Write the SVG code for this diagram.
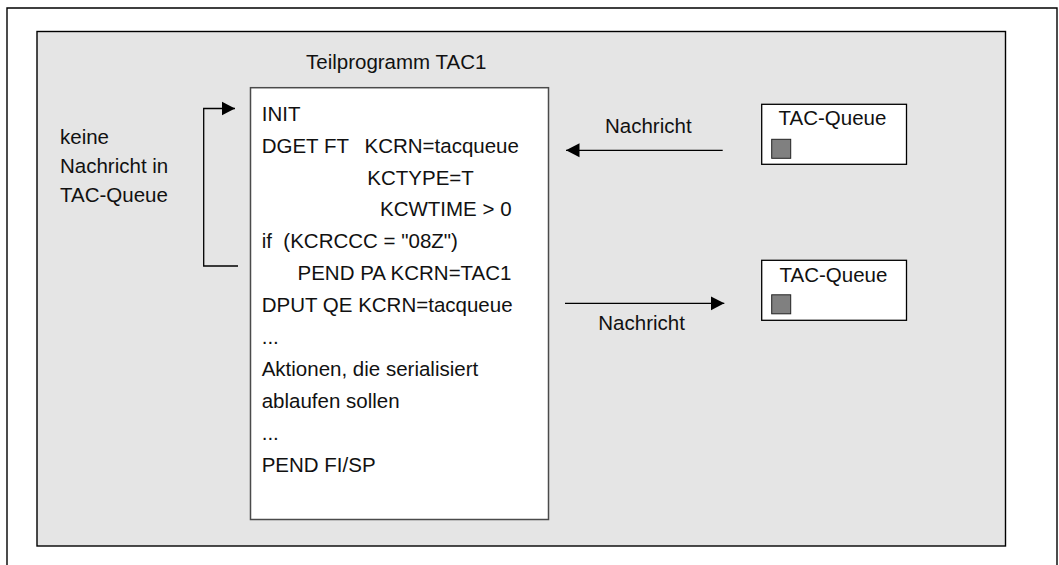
<svg xmlns="http://www.w3.org/2000/svg" width="1059" height="565" viewBox="0 0 1059 565">
<style>
text{font-family:"Liberation Sans",Arial,sans-serif;font-size:20.5px;fill:#111;}
.frame{fill:none;stroke:#000;stroke-width:1.4;}
.bg{fill:#e5e5e5;stroke:#000;stroke-width:1.4;}
.prog{fill:#fff;stroke:#4a4a4a;stroke-width:1.5;}
.queue{fill:#fff;stroke:#000;stroke-width:1.3;}
.msg{fill:#808080;stroke:#222;stroke-width:1;}
.conn{fill:none;stroke:#000;stroke-width:1.3;}
</style>
<defs>
<marker id="ah" markerUnits="userSpaceOnUse" viewBox="0 0 14 15" refX="13.5" refY="7.5" markerWidth="14" markerHeight="15" orient="auto">
<path d="M0,0.5 L13.5,7.5 L0,14.5 z" fill="#000"/>
</marker>
</defs>
<rect width="1059" height="565" fill="#fff"/>
<path class="frame" d="M7,566 V8 H1057 V566"/>
<g id="system">
<rect class="bg" x="37" y="31.5" width="968.5" height="514.5"/>
</g>
<g id="note">
<text x="60" y="144.3">keine</text>
<text x="60" y="173.3">Nachricht in</text>
<text x="60" y="202.3">TAC-Queue</text>
</g>
<g id="teilprogramm">
<text x="306" y="69">Teilprogramm TAC1</text>
<rect class="prog" x="250.5" y="87.7" width="298" height="431.8"/>
<text x="261.7" y="120.7">INIT</text>
<text y="152.6"><tspan x="261.7">DGET FT</tspan><tspan x="364.5">KCRN=tacqueue</tspan></text>
<text x="367.3" y="184.5">KCTYPE=T</text>
<text x="380" y="216.4">KCWTIME &gt; 0</text>
<text x="261.7" y="248.3" xml:space="preserve">if  (KCRCCC = "08Z")</text>
<text x="297.5" y="280.2">PEND PA KCRN=TAC1</text>
<text x="261.7" y="312.1">DPUT QE KCRN=tacqueue</text>
<text x="261.7" y="344">...</text>
<text x="261.7" y="375.9">Aktionen, die serialisiert</text>
<text x="261.7" y="407.8">ablaufen sollen</text>
<text x="261.7" y="439.7">...</text>
<text x="261.7" y="471.6">PEND FI/SP</text>
</g>
<g id="queue-in">
<rect class="queue" x="761.7" y="104.3" width="144.8" height="60"/>
<text x="778.5" y="125">TAC-Queue</text>
<rect class="msg" x="771.7" y="139.3" width="19" height="19"/>
</g>
<g id="queue-out">
<rect class="queue" x="761.7" y="260.3" width="144.8" height="60"/>
<text x="779.5" y="281.5">TAC-Queue</text>
<rect class="msg" x="771.7" y="294.8" width="19" height="19"/>
</g>
<g id="connectors">
<path class="conn" d="M238,266 H203.7 V108.5 H235" marker-end="url(#ah)"/>
<line class="conn" x1="722.7" y1="150.3" x2="566" y2="150.3" marker-end="url(#ah)"/>
<line class="conn" x1="565" y1="303.3" x2="724.3" y2="303.3" marker-end="url(#ah)"/>
<text x="605" y="133.3">Nachricht</text>
<text x="598.3" y="330">Nachricht</text>
</g>
</svg>
